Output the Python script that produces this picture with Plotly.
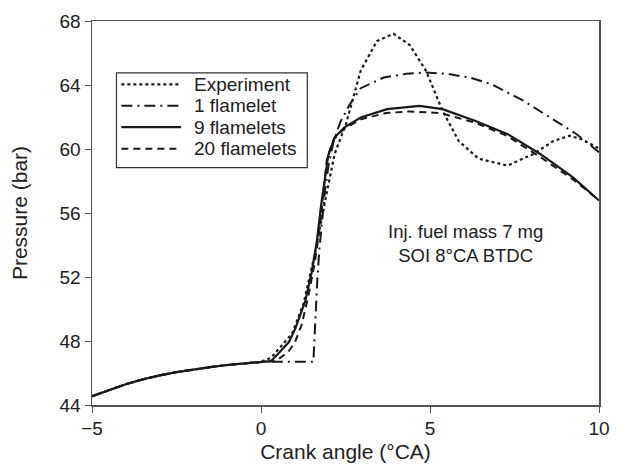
import plotly.graph_objects as go

# Shared compression part (-5 .. 0 °CA)
base_x = [-5, -4.5, -4, -3.5, -3, -2.5, -2, -1.5, -1, -0.5, 0]
base_y = [44.55, 44.95, 45.3, 45.6, 45.85, 46.05, 46.22, 46.37, 46.5, 46.6, 46.7]

exp_x = [0.3, 0.6, 0.93, 1.26, 1.6, 1.9, 2.18, 2.52, 2.95, 3.43, 3.92, 4.4, 4.88,
         5.37, 5.85, 6.43, 7.3, 8.07, 8.65, 9.13, 9.5, 9.94, 10]
exp_y = [46.95, 47.7, 48.5, 50.35, 53.5, 56.8, 59.7, 61.6, 64.9, 66.75, 67.2, 66.5, 64.9,
         62.4, 60.5, 59.4, 58.96, 59.7, 60.5, 60.83, 60.6, 60.1, 60.0]

f1_x = [1.55, 1.58, 1.62, 1.67, 1.73, 1.8, 1.9, 2.0, 2.15, 2.35, 2.6, 2.95, 3.63,
        4.3, 4.88, 5.5, 6.2, 6.82, 7.78, 8.55, 9.33, 10]
f1_y = [46.7, 48.2, 50.2, 52.0, 53.8, 55.5, 57.5, 59.0, 60.5, 61.7, 62.7, 63.8, 64.47,
        64.7, 64.78, 64.7, 64.45, 64.05, 63.0, 61.97, 60.94, 59.8]

f9_x = [0.3, 0.55, 0.83, 1.02, 1.31, 1.5, 1.65, 1.78, 1.89, 1.99, 2.18, 2.47, 2.95, 3.73,
        4.69, 5.37, 6.33, 7.3, 8.26, 9.23, 10]
f9_y = [46.75, 47.3, 47.95, 48.8, 50.5, 52.3, 54.2, 56.5, 58.2, 59.6, 60.73, 61.35, 61.97, 62.49,
        62.7, 62.49, 61.77, 60.93, 59.69, 58.23, 56.78]

f20_x = [0.45, 0.6, 0.8, 1.0, 1.2, 1.4, 1.6, 1.75, 1.85, 1.95, 2.15, 2.45, 2.95, 3.7,
         4.4, 5.3, 6.33, 7.3, 8.26, 9.23, 10]
f20_y = [46.75, 47.0, 47.3, 47.9, 49.0, 50.8, 53.0, 55.3, 57.6, 59.4, 60.6, 61.25, 61.85, 62.25,
         62.35, 62.25, 61.65, 60.8, 59.5, 58.1, 56.8]

x_ticks = [-5, 0, 5, 10]
y_ticks = [44, 48, 52, 56, 60, 64, 68]

series_names = ["Experiment", "1 flamelet", "9 flamelets", "20 flamelets"]
series_x = [exp_x, f1_x, f9_x, f20_x]
series_y = [exp_y, f1_y, f9_y, f20_y]
series_dash = ["dot", "11px,5px,2px,5px", "solid", "7px,5px"]
series_width = [2.2, 2.0, 2.2, 2.0]

# plot-area geometry (pixels) used to place the legend box
W, H = 621, 476
ML, MR, MT, MB = 92, 11, 20, 71
PW, PH = W - ML - MR, H - MT - MB


def px_x(p):
    return (p - ML) / PW


def px_y(p):
    return (H - MB - p) / PH


fig = go.Figure()
for name, xs, ys, dash, w in zip(series_names, series_x, series_y, series_dash, series_width):
    fig.add_trace(go.Scatter(
        x=base_x + xs, y=base_y + ys, mode="lines", name=name, showlegend=False,
        hoverinfo="skip", line=dict(color="#1a1a1a", width=w, dash=dash)))

font = dict(family="Liberation Sans, Arial, sans-serif", size=19, color="#222")

shapes = [dict(type="rect", xref="paper", yref="paper",
               x0=px_x(117), x1=px_x(312), y0=px_y(72), y1=px_y(167),
               line=dict(color="#333", width=1.2), fillcolor="white", layer="below")]
annotations = []
row0, row_gap = 83.5, 21.5
for i, (name, dash, w) in enumerate(zip(series_names, series_dash, series_width)):
    yy = px_y(row0 + i * row_gap)
    shapes.append(dict(type="line", xref="paper", yref="paper",
                       x0=px_x(122), x1=px_x(183), y0=yy, y1=yy,
                       line=dict(color="#1a1a1a", width=w, dash=dash)))
    annotations.append(dict(x=px_x(194), y=yy, xref="paper", yref="paper",
                            text=name, showarrow=False, xanchor="left", yanchor="middle",
                            font=dict(size=19, color="#222")))

annotations.append(dict(x=6.05, y=54.1, xref="x", yref="y",
                        text="Inj. fuel mass 7 mg<br>SOI 8°CA BTDC",
                        showarrow=False, font=dict(size=18.5, color="#222"),
                        align="center"))

fig.update_layout(
    width=W, height=H,
    margin=dict(l=ML, r=MR, t=MT, b=MB),
    paper_bgcolor="white", plot_bgcolor="white",
    font=font,
    showlegend=False,
    hovermode=False,
    shapes=shapes,
    annotations=annotations,
)
fig.update_xaxes(range=[-5, 10], tickvals=x_ticks, ticks="outside", ticklen=6,
                 showgrid=False, zeroline=False, showline=True, linecolor="#555",
                 linewidth=1.5, mirror=True, tickcolor="#555",
                 title=dict(text="Crank angle (°CA)", standoff=6, font=dict(size=21)))
fig.update_yaxes(range=[44, 68], tickvals=y_ticks, ticks="outside", ticklen=6,
                 showgrid=False, zeroline=False, showline=True, linecolor="#555",
                 linewidth=1.5, mirror=True, tickcolor="#555",
                 title=dict(text="Pressure (bar)", standoff=26, font=dict(size=21)))

fig.write_html("out.html", config={"displayModeBar": False, "staticPlot": True},
               post_script="document.body.style.margin='0';document.body.style.overflow='hidden';")
